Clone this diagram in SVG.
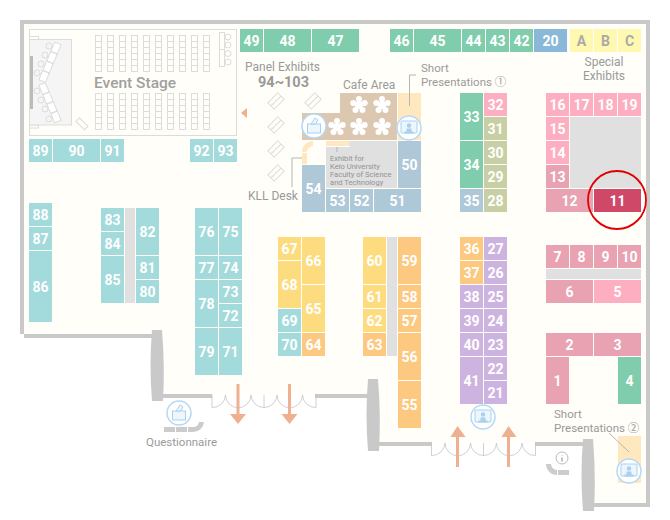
<svg xmlns="http://www.w3.org/2000/svg" width="670" height="520" viewBox="0 0 670 520">
<style>
text{font-family:"Roboto","Noto Sans CJK JP",sans-serif}
.n{font-size:14px;font-weight:700;fill:#fff;text-anchor:middle}
.l{font-size:12px;fill:#9a9a9a}
.t{fill:#a3dadb}.g{fill:#7fcdac}.bl{fill:#aec8d8}.b2{fill:#8ab8d8}.y{fill:#fff8b0}.p{fill:#fdaec0}.d{fill:#e8a2b2}.r{fill:#d04868}.o{fill:#fdc880}.m{fill:#fddc80}.v{fill:#cdb4e0}.k{fill:#c8cfa4}
.a{fill:#aaa}
.w{fill:#c9c9c9}
.x{fill:#e0e0e0}
.s{fill:none;stroke:#dcdcdc;stroke-width:1}
.j{fill:none;stroke:#c4c4c4;stroke-width:.8}
.ic{fill:#fff;stroke:#b4d8f6;stroke-width:1.500}
.iq{fill:#eef6fd;stroke:#a8d0f0;stroke-width:1}
.if{fill:#a8d0f0}
.ln{fill:none;stroke:#b5b5b5;stroke-width:1}
.ar{fill:#efb08f}
.lq{fill:#ffe8c0}
</style>
<defs>
<g id="pres"><circle class="ic" r="12"/><rect class="iq" x="-8" y="-7" width="16" height="12" rx="1"/><circle class="if" cy="-2.500" r="2.200"/><path class="if" d="M-2.500 0.500h5v3h2v2h-9v-2h2z"/></g>
<g id="ballot"><circle class="ic" r="12"/><rect class="iq" x="-6.500" y="-2" width="13" height="9"/><path class="iq" d="M-3 -2l4 -6 3 2-2.500 4z"/></g>
<g id="tbl"><rect class="s" x="-7" y="-4.500" width="14" height="9"/><path class="s" d="M-7 0h14"/></g>
<g id="cell"><rect class="s" width="6" height="6"/></g>
<g id="col"><use href="#cell"/><use href="#cell" y="6"/><use href="#cell" y="12"/><use href="#cell" y="18"/><use href="#cell" y="24"/><use href="#cell" y="30"/></g>
<g id="fl" fill="#fff" stroke="#fff"><circle r="4" stroke="none"/><path stroke-width="2" d="M0 0V-6M0 0L5.700-1.900M0 0L3.500 4.900M0 0L-3.500 4.900M0 0L-5.700-1.900"/><circle cy="-6" r="3" stroke="none"/><circle cx="5.700" cy="-1.900" r="3" stroke="none"/><circle cx="3.500" cy="4.900" r="3" stroke="none"/><circle cx="-3.500" cy="4.900" r="3" stroke="none"/><circle cx="-5.700" cy="-1.900" r="3" stroke="none"/></g>
<path id="door" class="j" d="M0 0V12.500A13 13 0 0 0 13.500 0A12.750 12.750 0 0 0 39 0A13 13 0 0 0 52 12.500V0M52 12.500A13 13 0 0 0 65 0A12.750 12.750 0 0 0 90.500 0A13 13 0 0 0 104 12.500V0"/>
</defs>

<g id="floor">
<path fill="#fffef8" d="M24 24H646V503H594V442H379V394H163V334H24z"/>
<path class="w" d="M20 20H650V507H590V503H646V24H24V338H155V334H20z"/>
<path class="w" d="M160 394H212V398H160zM315 394H370V398H315zM376 442H432V446H376zM535 442H585V446H535z"/>
<path class="w" d="M152 330H162Q165 366 163 401H152Q149 366 152 330z"/>
<path class="w" d="M368 379H378Q381 415 379 451H368Q365 415 368 379z"/>
<path class="w" d="M583 439H593Q596 475 594 511H583Q580 475 583 439z"/>
</g>

<g id="stage">
<rect x="29.500" y="29.500" width="207" height="106" fill="none" stroke="#dcdcdc"/>
<rect x="29.500" y="36.500" width="9" height="3" class="s"/>
<rect x="29.500" y="125" width="9" height="3" class="s"/>
<rect x="29.500" y="39.500" width="42" height="85.500" fill="#f5f5f5" stroke="#dcdcdc"/>
<rect x="30" y="56" width="3" height="53" fill="#bbb"/>
<g transform="translate(56 48) rotate(22)"><rect x="-3.500" y="-5" width="7" height="10" fill="#fff" stroke="#dcdcdc"/></g>
<g transform="translate(52 57.500) rotate(22)"><rect x="-3.500" y="-5" width="7" height="10" fill="#fff" stroke="#dcdcdc"/></g>
<g transform="translate(48 67) rotate(22)"><rect x="-3.500" y="-5" width="7" height="10" fill="#fff" stroke="#dcdcdc"/></g>
<g transform="translate(44 76.500) rotate(22)"><rect x="-3.500" y="-5" width="7" height="10" fill="#fff" stroke="#dcdcdc"/></g>
<g transform="translate(44 88.500) rotate(-22)"><rect x="-3.500" y="-5" width="7" height="10" fill="#fff" stroke="#dcdcdc"/></g>
<g transform="translate(48 98) rotate(-22)"><rect x="-3.500" y="-5" width="7" height="10" fill="#fff" stroke="#dcdcdc"/></g>
<g transform="translate(52 107.500) rotate(-22)"><rect x="-3.500" y="-5" width="7" height="10" fill="#fff" stroke="#dcdcdc"/></g>
<g transform="translate(56 117) rotate(-22)"><rect x="-3.500" y="-5" width="7" height="10" fill="#fff" stroke="#dcdcdc"/></g>
<circle class="s" cx="49" cy="46" r="3"/><circle class="s" cx="45" cy="55" r="3"/><circle class="s" cx="41" cy="64" r="3"/><circle class="s" cx="37" cy="73" r="3"/>
<circle class="s" cx="37" cy="91" r="3"/><circle class="s" cx="41" cy="100" r="3"/><circle class="s" cx="45" cy="109" r="3"/><circle class="s" cx="49" cy="119" r="3"/>
<g transform="translate(82 124) rotate(45)"><rect class="s" x="-6" y="-2.500" width="12" height="5"/></g>
<use href="#col" x="95.500" y="35.500"/><use href="#col" x="107.500" y="35.500"/><use href="#col" x="119.500" y="35.500"/><use href="#col" x="131.500" y="35.500"/><use href="#col" x="143.500" y="35.500"/><use href="#col" x="155.500" y="35.500"/><use href="#col" x="167.500" y="35.500"/><use href="#col" x="179.500" y="35.500"/><use href="#col" x="191.500" y="35.500"/><use href="#col" x="203.500" y="35.500"/>
<use href="#col" x="95.500" y="93.500"/><use href="#col" x="107.500" y="93.500"/><use href="#col" x="119.500" y="93.500"/><use href="#col" x="131.500" y="93.500"/><use href="#col" x="143.500" y="93.500"/><use href="#col" x="155.500" y="93.500"/><use href="#col" x="167.500" y="93.500"/><use href="#col" x="179.500" y="93.500"/><use href="#col" x="191.500" y="93.500"/><use href="#col" x="203.500" y="93.500"/>
<rect class="s" x="219.500" y="32.500" width="5" height="34"/><path class="s" d="M219.500 49.500h5"/>
<circle class="s" cx="228" cy="37" r="3"/><circle class="s" cx="228" cy="45" r="3"/><circle class="s" cx="228" cy="53.500" r="3"/><circle class="s" cx="228" cy="62" r="3"/>
<text x="94" y="88" font-size="15.500" font-weight="500" fill="#a0a0a0">Event Stage</text>
</g>

<g id="areas">
<rect class="x" x="570" y="117" width="71" height="71"/>
<rect class="x" x="546" y="269" width="95" height="10"/>
<rect class="x" x="387" y="237" width="10" height="119"/>
<rect class="x" x="125" y="208" width="10" height="95"/>
<rect class="x" x="326" y="141" width="71" height="47"/>
</g>

<g id="cafe">
<path fill="#dcc8b0" d="M340 93H397V140H302V113H340z"/>
<use href="#fl" x="359" y="105"/><use href="#fl" x="382" y="105"/><use href="#fl" x="337" y="127"/><use href="#fl" x="359" y="127"/><use href="#fl" x="382" y="127"/>
<rect class="lq" x="398" y="93" width="23" height="47"/>
<rect class="lq" x="326" y="141" width="23" height="5"/>
<rect x="326" y="146" width="24" height="1" fill="#fff"/>
<path class="lq" d="M302 152A11 11 0 0 1 313 141V146A6 6 0 0 0 307 152z"/>
<rect class="lq" x="302" y="153" width="5" height="11"/>
<text font-size="7.600" fill="#929292"><tspan x="330" y="161">Exhibit for</tspan><tspan x="330" y="169">Keio University</tspan><tspan x="330" y="177">Faculty of Science</tspan><tspan x="330" y="185">and Technology</tspan></text>
<text class="l" x="343" y="89">Cafe Area</text>
<text class="l" x="245" y="71">Panel Exhibits</text>
<text x="258" y="87" font-size="14.500" font-weight="700" fill="#999">94~103</text>
<text class="l" x="248" y="200">KLL Desk</text>
</g>

<g id="panels">
<g transform="translate(276 101) rotate(-45)"><use href="#tbl"/></g>
<g transform="translate(313 101) rotate(-45)"><use href="#tbl"/></g>
<g transform="translate(276 125) rotate(-45)"><use href="#tbl"/></g>
<g transform="translate(276 149) rotate(-45)"><use href="#tbl"/></g>
<g transform="translate(276 173) rotate(-45)"><use href="#tbl"/></g>
</g>

<g id="booths">
<g id="b89"><rect class="t" x="29" y="139" width="23" height="23"/><text class="n" x="40.500" y="156">89</text></g>
<g id="b90"><rect class="t" x="53" y="139" width="47" height="23"/><text class="n" x="76.500" y="156">90</text></g>
<g id="b91"><rect class="t" x="101" y="139" width="23" height="23"/><text class="n" x="112.500" y="156">91</text></g>
<g id="b92"><rect class="t" x="190" y="139" width="23" height="23"/><text class="n" x="201.500" y="156">92</text></g>
<g id="b93"><rect class="t" x="214" y="139" width="23" height="23"/><text class="n" x="225.500" y="156">93</text></g>
<g id="b49"><rect class="g" x="240" y="29" width="23" height="23"/><text class="n" x="251.500" y="46">49</text></g>
<g id="b48"><rect class="g" x="264" y="29" width="47" height="23"/><text class="n" x="287.500" y="46">48</text></g>
<g id="b47"><rect class="g" x="312" y="29" width="47" height="23"/><text class="n" x="335.500" y="46">47</text></g>
<g id="b46"><rect class="g" x="390" y="29" width="23" height="23"/><text class="n" x="401.500" y="46">46</text></g>
<g id="b45"><rect class="g" x="414" y="29" width="47" height="23"/><text class="n" x="437.500" y="46">45</text></g>
<g id="b44"><rect class="g" x="462" y="29" width="23" height="23"/><text class="n" x="473.500" y="46">44</text></g>
<g id="b43"><rect class="g" x="486" y="29" width="23" height="23"/><text class="n" x="497.500" y="46">43</text></g>
<g id="b42"><rect class="g" x="510" y="29" width="23" height="23"/><text class="n" x="521.500" y="46">42</text></g>
<g id="b20"><rect class="b2" x="534" y="29" width="33" height="23"/><text class="n" x="550.500" y="46">20</text></g>
<g id="bA"><rect class="y" x="570" y="29" width="23" height="23"/><text class="n a" x="581.500" y="46">A</text></g>
<g id="bB"><rect class="y" x="594" y="29" width="23" height="23"/><text class="n a" x="605.500" y="46">B</text></g>
<g id="bC"><rect class="y" x="618" y="29" width="23" height="23"/><text class="n a" x="629.500" y="46">C</text></g>
<g id="b16"><rect class="p" x="546" y="93" width="23" height="23"/><text class="n" x="557.500" y="110">16</text></g>
<g id="b17"><rect class="p" x="570" y="93" width="23" height="23"/><text class="n" x="581.500" y="110">17</text></g>
<g id="b18"><rect class="p" x="594" y="93" width="23" height="23"/><text class="n" x="605.500" y="110">18</text></g>
<g id="b19"><rect class="p" x="618" y="93" width="23" height="23"/><text class="n" x="629.500" y="110">19</text></g>
<g id="b15"><rect class="p" x="546" y="117" width="23" height="23"/><text class="n" x="557.500" y="134">15</text></g>
<g id="b14"><rect class="p" x="546" y="141" width="23" height="23"/><text class="n" x="557.500" y="158">14</text></g>
<g id="b13"><rect class="d" x="546" y="165" width="23" height="23"/><text class="n" x="557.500" y="182">13</text></g>
<g id="b12"><rect class="d" x="546" y="189" width="47" height="23"/><text class="n" x="569.500" y="206">12</text></g>
<g id="b11"><rect class="r" x="594" y="189" width="47" height="23"/><text class="n" x="617.500" y="206">11</text></g>
<g id="b7"><rect class="d" x="546" y="245" width="23" height="23"/><text class="n" x="557.500" y="262">7</text></g>
<g id="b8"><rect class="d" x="570" y="245" width="23" height="23"/><text class="n" x="581.500" y="262">8</text></g>
<g id="b9"><rect class="d" x="594" y="245" width="23" height="23"/><text class="n" x="605.500" y="262">9</text></g>
<g id="b10"><rect class="d" x="618" y="245" width="23" height="23"/><text class="n" x="629.500" y="262">10</text></g>
<g id="b6"><rect class="d" x="546" y="280" width="47" height="23"/><text class="n" x="569.500" y="297">6</text></g>
<g id="b5"><rect class="p" x="594" y="280" width="47" height="23"/><text class="n" x="617.500" y="297">5</text></g>
<g id="b2"><rect class="d" x="546" y="333" width="47" height="23"/><text class="n" x="569.500" y="350">2</text></g>
<g id="b3"><rect class="d" x="594" y="333" width="47" height="23"/><text class="n" x="617.500" y="350">3</text></g>
<g id="b1"><rect class="d" x="546" y="357" width="23" height="47"/><text class="n" x="557.500" y="386">1</text></g>
<g id="b4"><rect class="g" x="618" y="357" width="23" height="47"/><text class="n" x="629.500" y="386">4</text></g>
<g id="b33"><rect class="g" x="460" y="93" width="23" height="47"/><text class="n" x="471.500" y="122">33</text></g>
<g id="b32"><rect class="p" x="484" y="93" width="23" height="23"/><text class="n" x="495.500" y="110">32</text></g>
<g id="b31"><rect class="k" x="484" y="117" width="23" height="23"/><text class="n" x="495.500" y="134">31</text></g>
<g id="b34"><rect class="g" x="460" y="141" width="23" height="47"/><text class="n" x="471.500" y="170">34</text></g>
<g id="b30"><rect class="k" x="484" y="141" width="23" height="23"/><text class="n" x="495.500" y="158">30</text></g>
<g id="b29"><rect class="k" x="484" y="165" width="23" height="23"/><text class="n" x="495.500" y="182">29</text></g>
<g id="b35"><rect class="bl" x="460" y="189" width="23" height="23"/><text class="n" x="471.500" y="206">35</text></g>
<g id="b28"><rect class="k" x="484" y="189" width="23" height="23"/><text class="n" x="495.500" y="206">28</text></g>
<g id="b50"><rect class="bl" x="398" y="141" width="23" height="47"/><text class="n" x="409.500" y="170">50</text></g>
<g id="b51"><rect class="bl" x="374" y="189" width="47" height="23"/><text class="n" x="397.500" y="206">51</text></g>
<g id="b52"><rect class="bl" x="350" y="189" width="23" height="23"/><text class="n" x="361.500" y="206">52</text></g>
<g id="b53"><rect class="bl" x="326" y="189" width="23" height="23"/><text class="n" x="337.500" y="206">53</text></g>
<g id="b54"><rect class="bl" x="302" y="165" width="23" height="47"/><text class="n" x="313.500" y="194">54</text></g>
<g id="b36"><rect class="o" x="460" y="237" width="23" height="23"/><text class="n" x="471.500" y="254">36</text></g>
<g id="b37"><rect class="o" x="460" y="261" width="23" height="23"/><text class="n" x="471.500" y="278">37</text></g>
<g id="b38"><rect class="v" x="460" y="285" width="23" height="23"/><text class="n" x="471.500" y="302">38</text></g>
<g id="b39"><rect class="v" x="460" y="309" width="23" height="23"/><text class="n" x="471.500" y="326">39</text></g>
<g id="b40"><rect class="v" x="460" y="333" width="23" height="23"/><text class="n" x="471.500" y="350">40</text></g>
<g id="b41"><rect class="v" x="460" y="357" width="23" height="47"/><text class="n" x="471.500" y="386">41</text></g>
<g id="b27"><rect class="v" x="484" y="237" width="23" height="23"/><text class="n" x="495.500" y="254">27</text></g>
<g id="b26"><rect class="v" x="484" y="261" width="23" height="23"/><text class="n" x="495.500" y="278">26</text></g>
<g id="b25"><rect class="v" x="484" y="285" width="23" height="23"/><text class="n" x="495.500" y="302">25</text></g>
<g id="b24"><rect class="v" x="484" y="309" width="23" height="23"/><text class="n" x="495.500" y="326">24</text></g>
<g id="b23"><rect class="v" x="484" y="333" width="23" height="23"/><text class="n" x="495.500" y="350">23</text></g>
<g id="b22"><rect class="v" x="484" y="357" width="23" height="23"/><text class="n" x="495.500" y="374">22</text></g>
<g id="b21"><rect class="v" x="484" y="381" width="23" height="23"/><text class="n" x="495.500" y="398">21</text></g>
<g id="b59"><rect class="o" x="398" y="237" width="23" height="47"/><text class="n" x="409.500" y="266">59</text></g>
<g id="b58"><rect class="o" x="398" y="285" width="23" height="23"/><text class="n" x="409.500" y="302">58</text></g>
<g id="b57"><rect class="o" x="398" y="309" width="23" height="23"/><text class="n" x="409.500" y="326">57</text></g>
<g id="b56"><rect class="o" x="398" y="333" width="23" height="47"/><text class="n" x="409.500" y="362">56</text></g>
<g id="b55"><rect class="o" x="398" y="381" width="23" height="47"/><text class="n" x="409.500" y="410">55</text></g>
<g id="b60"><rect class="m" x="363" y="237" width="23" height="47"/><text class="n" x="374.500" y="266">60</text></g>
<g id="b61"><rect class="m" x="363" y="285" width="23" height="23"/><text class="n" x="374.500" y="302">61</text></g>
<g id="b62"><rect class="m" x="363" y="309" width="23" height="23"/><text class="n" x="374.500" y="326">62</text></g>
<g id="b63"><rect class="o" x="363" y="333" width="23" height="23"/><text class="n" x="374.500" y="350">63</text></g>
<g id="b67"><rect class="m" x="278" y="237" width="23" height="23"/><text class="n" x="289.500" y="254">67</text></g>
<g id="b68"><rect class="m" x="278" y="261" width="23" height="47"/><text class="n" x="289.500" y="290">68</text></g>
<g id="b69"><rect class="t" x="278" y="309" width="23" height="23"/><text class="n" x="289.500" y="326">69</text></g>
<g id="b70"><rect class="t" x="278" y="333" width="23" height="23"/><text class="n" x="289.500" y="350">70</text></g>
<g id="b66"><rect class="m" x="302" y="237" width="23" height="47"/><text class="n" x="313.500" y="266">66</text></g>
<g id="b65"><rect class="m" x="302" y="285" width="23" height="47"/><text class="n" x="313.500" y="314">65</text></g>
<g id="b64"><rect class="o" x="302" y="333" width="23" height="23"/><text class="n" x="313.500" y="350">64</text></g>
<g id="b76"><rect class="t" x="195" y="208" width="23" height="47"/><text class="n" x="206.500" y="237">76</text></g>
<g id="b75"><rect class="t" x="219" y="208" width="23" height="47"/><text class="n" x="230.500" y="237">75</text></g>
<g id="b77"><rect class="t" x="195" y="256" width="23" height="23"/><text class="n" x="206.500" y="273">77</text></g>
<g id="b74"><rect class="t" x="219" y="256" width="23" height="23"/><text class="n" x="230.500" y="273">74</text></g>
<g id="b78"><rect class="t" x="195" y="280" width="23" height="47"/><text class="n" x="206.500" y="309">78</text></g>
<g id="b73"><rect class="t" x="219" y="280" width="23" height="23"/><text class="n" x="230.500" y="297">73</text></g>
<g id="b72"><rect class="t" x="219" y="304" width="23" height="23"/><text class="n" x="230.500" y="321">72</text></g>
<g id="b79"><rect class="t" x="195" y="328" width="23" height="47"/><text class="n" x="206.500" y="357">79</text></g>
<g id="b71"><rect class="t" x="219" y="328" width="23" height="47"/><text class="n" x="230.500" y="357">71</text></g>
<g id="b83"><rect class="t" x="101" y="208" width="23" height="23"/><text class="n" x="112.500" y="225">83</text></g>
<g id="b84"><rect class="t" x="101" y="232" width="23" height="23"/><text class="n" x="112.500" y="249">84</text></g>
<g id="b85"><rect class="t" x="101" y="256" width="23" height="47"/><text class="n" x="112.500" y="285">85</text></g>
<g id="b82"><rect class="t" x="136" y="208" width="23" height="47"/><text class="n" x="147.500" y="237">82</text></g>
<g id="b81"><rect class="t" x="136" y="256" width="23" height="23"/><text class="n" x="147.500" y="273">81</text></g>
<g id="b80"><rect class="t" x="136" y="280" width="23" height="23"/><text class="n" x="147.500" y="297">80</text></g>
<g id="b88"><rect class="t" x="29" y="203" width="23" height="23"/><text class="n" x="40.500" y="220">88</text></g>
<g id="b87"><rect class="t" x="29" y="227" width="23" height="23"/><text class="n" x="40.500" y="244">87</text></g>
<g id="b86"><rect class="t" x="29" y="251" width="23" height="71"/><text class="n" x="40.500" y="292">86</text></g>
</g>

<g id="icons">
<use href="#ballot" x="314" y="126"/>
<use href="#pres" x="409" y="128"/>
<use href="#pres" x="483" y="417"/>
<rect class="lq" x="618" y="436" width="23" height="47"/>
<use href="#pres" x="629" y="471"/>
<use href="#ballot" x="179" y="413"/>
<path fill="#ccc" d="M164 427h11v5h-11zM176 427h11v5h-11zM188 432v-5h6a6 6 0 0 0 5-5h5a11 11 0 0 1-11 10z"/>
<g id="info"><circle cx="562" cy="458" r="6" fill="#fff" stroke="#bbb"/><path d="M562 455.500v.5M562 457.500v4" stroke="#999" stroke-width="1.200"/></g>
<path fill="#ccc" d="M546 464h5a6 6 0 0 0 6 6v5a11 11 0 0 1-11-11zM558 470h11v5h-11z"/>
</g>

<g id="connectors">
<path class="ar" d="M241 113l6-5v10z"/>
<path class="ln" d="M302 158H292V187"/>
<path class="ln" d="M337 147V152"/>
<path class="ln" d="M416 75H409.500V106"/>
<path class="ln" d="M609 433L629 452"/>
<use href="#door" x="212" y="395"/>
<use href="#door" x="431.500" y="443"/>
<path class="ar" d="M236.500 384h3v30h6.500l-8 10-8-10h6.500zM288 384h3v30h6.500l-8 10-8-10h6.500z"/>
<path class="ar" d="M456 467h3v-30h6.500l-8-11-7 11h5.500zM507 467h3v-30h6.500l-8-11-7 11h5.500z"/>
</g>

<g id="labels">
<text class="l" style="font-size:11.500px"><tspan x="421" y="72">Short</tspan><tspan x="421" y="85.500">Presentations ①</tspan></text>
<text class="l" text-anchor="middle"><tspan x="604" y="66">Special</tspan><tspan x="604" y="80">Exhibits</tspan></text>
<text class="l" x="146" y="446" style="font-size:11.500px">Questionnaire</text>
<text class="l" style="font-size:11.500px"><tspan x="554" y="418">Short</tspan><tspan x="554" y="431.500">Presentations ②</tspan></text>
</g>

<circle id="highlight" cx="617" cy="200" r="29" fill="none" stroke="#e00000" stroke-width="1.800"/>
</svg>
